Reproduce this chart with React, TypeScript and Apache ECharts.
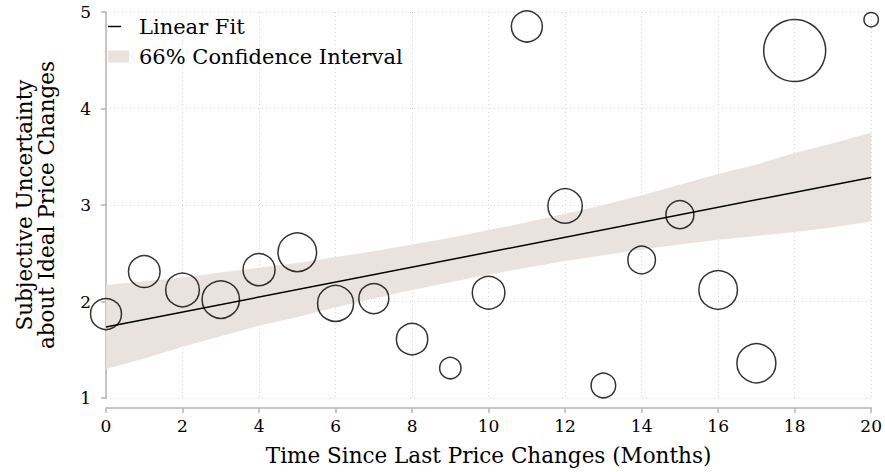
import React, { useEffect, useRef } from "react";
import * as echarts from "echarts";

// Bubble data: months since last price change, subjective uncertainty, weight
const months = [0, 1, 2, 3, 4, 5, 6, 7, 8, 9, 10, 11, 12, 13, 14, 15, 16, 17, 18, 20];
const uncertainty = [1.87, 2.31, 2.12, 2.02, 2.33, 2.51, 1.98, 2.03, 1.61, 1.31, 2.09, 4.85, 2.99, 1.13, 2.43, 2.9, 2.12, 1.36, 4.6, 4.92];
const weights = [240, 250, 282, 350, 256, 372, 324, 225, 246, 114, 266, 240, 296, 151, 190, 196, 372, 380, 961, 52];

// Linear fit endpoints
const fitX = [0, 20];
const fitY = [1.736, 3.286];

// 66% confidence interval read at each month
const bandX = [0, 1, 2, 3, 4, 5, 6, 7, 8, 9, 10, 11, 12, 13, 14, 15, 16, 17, 18, 19, 20];
const bandLower = [1.3, 1.41, 1.53, 1.64, 1.75, 1.84, 1.94, 2.03, 2.12, 2.2, 2.28, 2.35, 2.42, 2.48, 2.54, 2.59, 2.64, 2.68, 2.72, 2.77, 2.83];
const bandUpper = [2.17, 2.21, 2.25, 2.3, 2.35, 2.4, 2.46, 2.52, 2.59, 2.66, 2.74, 2.82, 2.91, 3.0, 3.1, 3.21, 3.32, 3.42, 3.54, 3.64, 3.75];

const FONT = "DejaVu Serif";
const BAND = "#e9e2df";
const AXIS = "#b4b4b4";
const GRIDC = "#d6d6d6";

export default function App() {
  const ref = useRef<HTMLDivElement>(null);
  useEffect(() => {
    if (!ref.current) return;
    const chart = echarts.init(ref.current, null, { renderer: "svg" });
    const bandData = bandX.map((x, i) => [x, bandLower[i], bandUpper[i]]);
    chart.setOption({
      animation: false,
      backgroundColor: "#ffffff",
      textStyle: { fontFamily: FONT },
      grid: { left: 106, right: 12, top: 12, bottom: 74 },
      legend: [
        {
          left: 108,
          top: 16,
          padding: 0,
          itemWidth: 13,
          itemHeight: 12,
          selectedMode: false,
          textStyle: { fontFamily: FONT, fontSize: 21, color: "#000", padding: [0, 0, 0, 13] },
          data: [{ name: "Linear Fit", icon: "path://M0,0H13V1.4H0Z", itemStyle: { color: "#000" } }],
        },
        {
          left: 108,
          top: 46,
          padding: 0,
          itemWidth: 21,
          itemHeight: 12,
          selectedMode: false,
          textStyle: { fontFamily: FONT, fontSize: 21, color: "#000", padding: [0, 0, 0, 5] },
          data: [{ name: "66% Confidence Interval", icon: "rect", itemStyle: { color: BAND } }],
        },
      ],
      xAxis: {
        type: "value",
        min: 0,
        max: 20,
        interval: 2,
        offset: 10,
        name: "Time Since Last Price Changes (Months)",
        nameLocation: "middle",
        nameGap: 36,
        nameTextStyle: { fontFamily: FONT, fontSize: 21.5, color: "#000" },
        axisLine: { show: true, lineStyle: { color: AXIS, width: 1.5 } },
        axisTick: { show: true, length: 5, lineStyle: { color: AXIS, width: 1.5 } },
        axisLabel: { fontFamily: FONT, fontSize: 17, color: "#000", margin: 9 },
        splitLine: { show: true, lineStyle: { color: GRIDC, type: [1, 3], width: 1 } },
      },
      yAxis: {
        type: "value",
        min: 1,
        max: 5,
        interval: 1,
        offset: 10,
        name: "Subjective Uncertainty\nabout Ideal Price Changes",
        nameLocation: "middle",
        nameRotate: 90,
        nameGap: 39,
        nameTextStyle: { fontFamily: FONT, fontSize: 21.5, lineHeight: 22, color: "#000" },
        axisLine: { show: true, lineStyle: { color: AXIS, width: 1.5 } },
        axisTick: { show: true, length: 5, lineStyle: { color: AXIS, width: 1.5 } },
        axisLabel: { fontFamily: FONT, fontSize: 17, color: "#000", margin: 5 },
        splitLine: { show: true, lineStyle: { color: GRIDC, type: [1, 3], width: 1 } },
      },
      series: [
        {
          name: "66% Confidence Interval",
          type: "custom",
          itemStyle: { color: BAND },
          data: bandData,
          encode: { x: 0, y: [1, 2] },
          z: 1,
          renderItem: (params: any, api: any) => {
            if (params.dataIndex !== 0) return null;
            const top = bandX.map((x, i) => api.coord([x, bandUpper[i]]));
            const bot = bandX.map((x, i) => api.coord([x, bandLower[i]])).reverse();
            return {
              type: "polygon",
              shape: { points: top.concat(bot) },
              style: { fill: BAND },
            };
          },
        },
        {
          name: "Linear Fit",
          type: "line",
          data: fitX.map((x, i) => [x, fitY[i]]),
          showSymbol: false,
          lineStyle: { color: "#000", width: 1.5 },
          itemStyle: { color: "#000" },
          z: 3,
        },
        {
          name: "Bins",
          type: "scatter",
          clip: false,
          data: months.map((m, i) => [m, uncertainty[i], weights[i]]),
          symbol: "circle",
          symbolSize: (v: number[]) => 2 * Math.sqrt(v[2]),
          itemStyle: { color: "rgba(0,0,0,0)", borderColor: "#000", borderWidth: 1.5 },
          z: 4,
        },
      ],
    });
    return () => chart.dispose();
  }, []);
  return (
    <div
      ref={ref}
      style={{ position: "fixed", left: 0, top: 0, width: 885, height: 472, background: "#fff" }}
    />
  );
}
